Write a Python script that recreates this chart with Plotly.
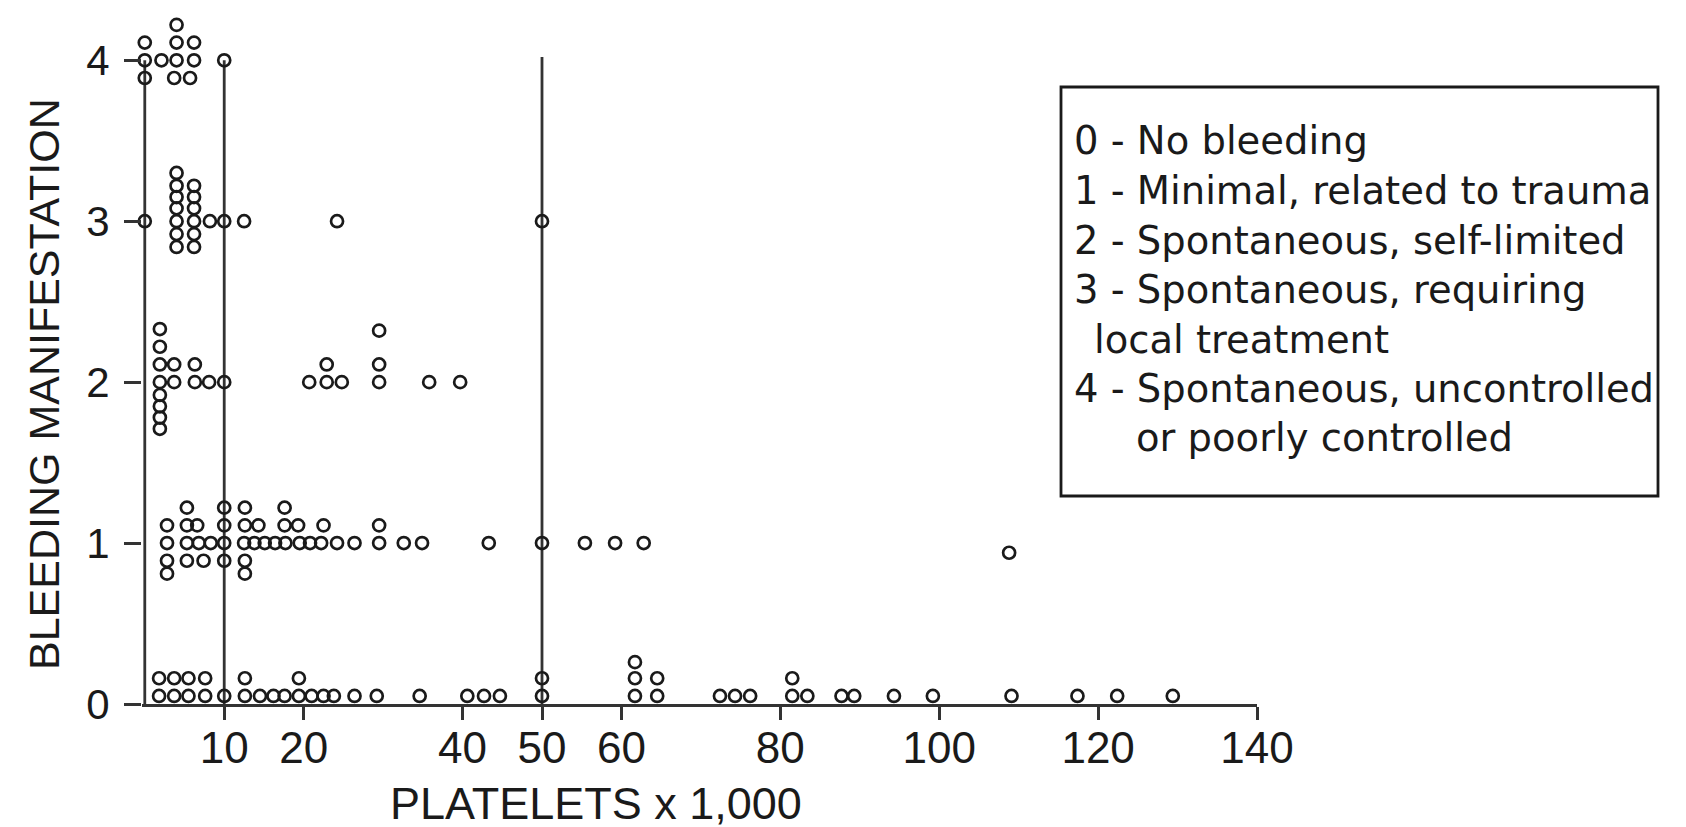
import plotly.graph_objects as go

# ---------------- data ----------------
# displayed positions: x = platelets x 1,000 ; y = bleeding grade (with the small stacking offsets of the dot plot)
grade4_x = [0, 0, 0, 2.1, 4.0, 4.0, 4.0, 3.7, 6.2, 6.2, 5.7, 10]
grade4_y = [4.0, 4.11, 3.89, 4.0, 4.0, 4.11, 4.22, 3.89, 4.0, 4.11, 3.89, 4.0]

grade3_x = [0, 4.0, 4.0, 4.0, 4.0, 4.0, 4.0, 4.0, 6.2, 6.2, 6.2, 6.2, 6.2, 6.2, 8.2, 10, 12.5, 24.2, 50]
grade3_y = [3.0, 3.30, 3.22, 3.15, 3.08, 3.0, 2.92, 2.84, 3.22, 3.15, 3.08, 3.0, 2.92, 2.84, 3.0, 3.0, 3.0, 3.0, 3.0]

grade2_x = [1.9, 1.9, 1.9, 1.9, 1.9, 1.9, 1.9, 1.9, 3.7, 3.7, 6.3, 6.3, 8.1, 10,
            20.7, 22.9, 22.9, 24.8, 29.5, 29.5, 29.5, 35.8, 39.7]
grade2_y = [2.33, 2.22, 2.11, 2.0, 1.92, 1.85, 1.78, 1.71, 2.11, 2.0, 2.0, 2.11, 2.0, 2.0,
            2.0, 2.0, 2.11, 2.0, 2.0, 2.11, 2.32, 2.0, 2.0]

grade1_x = [2.8, 5.3, 6.8, 8.3, 10, 12.5, 13.8, 15.1, 16.4, 17.7, 19.5, 20.8, 22.2, 24.2, 26.4,
            29.5, 32.6, 34.9, 43.3, 50, 55.4, 59.2, 62.8, 108.8,
            2.8, 5.3, 6.6, 10, 12.6, 14.3, 17.6, 19.3, 22.5, 29.5,
            5.3, 10, 12.6, 17.6,
            2.8, 5.3, 7.4, 10, 12.6,
            2.8, 12.6]
grade1_y = [1.0] * 23 + [0.94] + [1.11] * 10 + [1.22] * 4 + [0.89] * 5 + [0.81] * 2

grade0_x = [1.8, 3.7, 5.5, 7.6, 10, 12.6, 14.5, 16.2, 17.6, 19.4, 21.0, 22.5, 23.8, 26.4, 29.2,
            34.6, 40.6, 42.7, 44.7, 50, 61.7, 64.5, 72.4, 74.3, 76.2, 81.5, 83.4, 87.7, 89.3,
            94.3, 99.2, 109.1, 117.4, 122.4, 129.4,
            1.8, 3.7, 5.5, 7.6, 12.6, 19.4, 50, 61.7, 64.5, 81.5,
            61.7]
grade0_y = [0.05] * 35 + [0.16] * 10 + [0.26]

x_ticks = [10, 20, 40, 50, 60, 80, 100, 120, 140]
y_ticks = [0, 1, 2, 3, 4]

vline_x = [0, 10, 50]
vline_top = [4.0, 4.0, 4.02]

legend_lines = ["0 - No bleeding",
                "1 - Minimal, related to trauma",
                "2 - Spontaneous, self-limited",
                "3 - Spontaneous, requiring",
                "local treatment",
                "4 - Spontaneous, uncontrolled",
                "or poorly controlled"]
legend_indent = [0, 0, 0, 0, 20, 0, 62]

x_title = "PLATELETS x 1,000"
y_title = "BLEEDING MANIFESTATION"

# ---------------- layout geometry ----------------
W, H = 1686, 827
X_MIN, X_MAX = -0.35, 140
L, R, T, B = 134, 437, 4, 131
PW, PH = W - L - R, H - T - B
INK = "#1a1a1a"
LINE = "#333333"


def px(xp):
    return (xp - L) / PW


def py(yp):
    return (H - B - yp) / PH


fig = go.Figure()

for xv, top in zip(vline_x, vline_top):
    fig.add_trace(go.Scatter(x=[xv, xv], y=[0, top], mode="lines", cliponaxis=False,
                             showlegend=False, hoverinfo="skip",
                             line=dict(color=LINE, width=2.8)))

all_x = grade4_x + grade3_x + grade2_x + grade1_x + grade0_x
all_y = grade4_y + grade3_y + grade2_y + grade1_y + grade0_y
fig.add_trace(go.Scatter(
    x=all_x, y=all_y, mode="markers", cliponaxis=False, showlegend=False,
    marker=dict(symbol="circle-open", size=12, color=INK, line=dict(width=2.7, color=INK)),
))

shapes = [dict(type="rect", xref="paper", yref="paper",
               x0=px(1053), x1=px(1650), y0=py(488), y1=py(79),
               line=dict(color=INK, width=2.8), fillcolor="rgba(0,0,0,0)")]

annotations = []
line_y0, line_dy = 133, 49.5
for i, (txt, ind) in enumerate(zip(legend_lines, legend_indent)):
    annotations.append(dict(xref="paper", yref="paper", x=px(1064 + ind), y=py(line_y0 + i * line_dy),
                            xanchor="left", yanchor="middle", showarrow=False, text=txt,
                            font=dict(family="DejaVu Sans, Arial, sans-serif", size=38.5, color=INK)))
annotations.append(dict(xref="paper", yref="paper", x=px(588), y=py(795), xanchor="center",
                        yanchor="middle", showarrow=False, text=x_title,
                        font=dict(family="Liberation Sans, Arial, sans-serif", size=45, color=INK)))
annotations.append(dict(xref="paper", yref="paper", x=px(36), y=py(376), xanchor="center",
                        yanchor="middle", showarrow=False, text=y_title, textangle=-90,
                        font=dict(family="Liberation Sans, Arial, sans-serif", size=43, color=INK)))

fig.update_layout(
    width=W, height=H, autosize=False,
    margin=dict(l=L, r=R, t=T, b=B, pad=0),
    paper_bgcolor="white", plot_bgcolor="white",
    shapes=shapes, annotations=annotations, showlegend=False,
    xaxis=dict(range=[X_MIN, X_MAX], tickvals=x_ticks, ticktext=[str(v) for v in x_ticks],
               showgrid=False, zeroline=False, showline=True, linecolor=LINE, linewidth=2.8,
               ticks="outside", ticklen=13, tickwidth=2.8, tickcolor=LINE, ticklabelstandoff=-10,
               tickfont=dict(family="Liberation Sans, Arial, sans-serif", size=44, color=INK)),
    yaxis=dict(range=[0, 4.3], tickvals=y_ticks, ticktext=[str(v) for v in y_ticks],
               showgrid=False, zeroline=False, showline=False,
               ticks="outside", ticklen=17, tickwidth=2.8, tickcolor=LINE, ticklabelstandoff=6,
               tickfont=dict(family="Liberation Sans, Arial, sans-serif", size=42, color=INK)),
)

fig.write_html("out.html")
